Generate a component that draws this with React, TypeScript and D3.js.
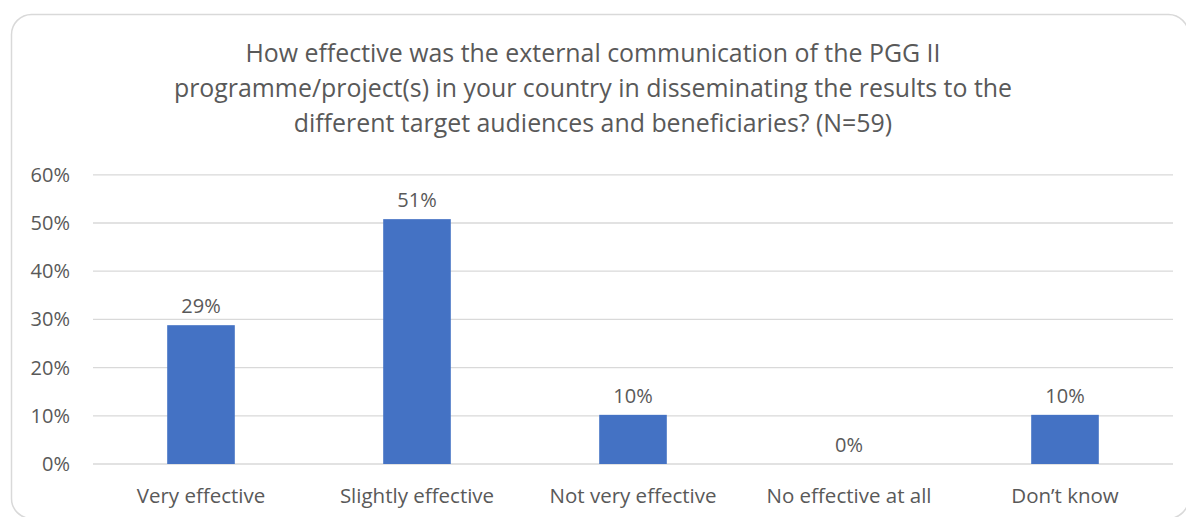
import React from "react";
import * as d3 from "d3";

const categories = ["Very effective", "Slightly effective", "Not very effective", "No effective at all", "Don’t know"];
const values = [0.288, 0.508, 0.102, 0, 0.102];
const labels = ["29%", "51%", "10%", "0%", "10%"];
const yTicks = [0, 0.1, 0.2, 0.3, 0.4, 0.5, 0.6];
const titleLines = [
  "How effective was the external communication of the PGG II",
  "programme/project(s) in your country in disseminating the results to the",
  "different target audiences and beneficiaries? (N=59)",
];

const W = 1186, H = 517;
const font = "'Open Sans', 'Noto Sans', sans-serif";
const textColor = "#595959";

export default function App() {
  const x = d3.scaleBand<string>().domain(categories).range([93, 1173]).paddingInner(0.687).paddingOuter(0.3435);
  const y = d3.scaleLinear().domain([0, 0.6]).range([464, 174.8]);
  return (
    <svg width={W} height={H} style={{ position: "absolute", left: 0, top: 0 }}>
      <rect x={11.5} y={14.5} width={1177} height={504} rx={20} ry={20} fill="#fff" stroke="#d9d9d9" strokeWidth={1.5} />
      {titleLines.map((t, i) => (
        <text key={i} x={593} y={61.5 + i * 35} textAnchor="middle" fontFamily={font} fontSize={24.9} fill={textColor}>{t}</text>
      ))}
      {yTicks.map((t) => (
        <g key={t}>
          <line x1={93} x2={1173} y1={y(t)} y2={y(t)} stroke="#d9d9d9" strokeWidth={1.3} />
          <text x={70} y={y(t) + 7} textAnchor="end" fontFamily={font} fontSize={20} fill={textColor}>{d3.format(".0%")(t)}</text>
        </g>
      ))}
      {categories.map((c, i) => (
        <g key={c}>
          {values[i] > 0 && (
            <rect x={x(c)} y={y(values[i])} width={x.bandwidth()} height={y(0) - y(values[i])} fill="#4472c4" />
          )}
          <text x={x(c)! + x.bandwidth() / 2} y={y(values[i]) - 12} textAnchor="middle" fontFamily={font} fontSize={20} fill={textColor}>{labels[i]}</text>
          <text x={x(c)! + x.bandwidth() / 2} y={503} textAnchor="middle" fontFamily={font} fontSize={20.5} fill={textColor}>{c}</text>
        </g>
      ))}
    </svg>
  );
}
